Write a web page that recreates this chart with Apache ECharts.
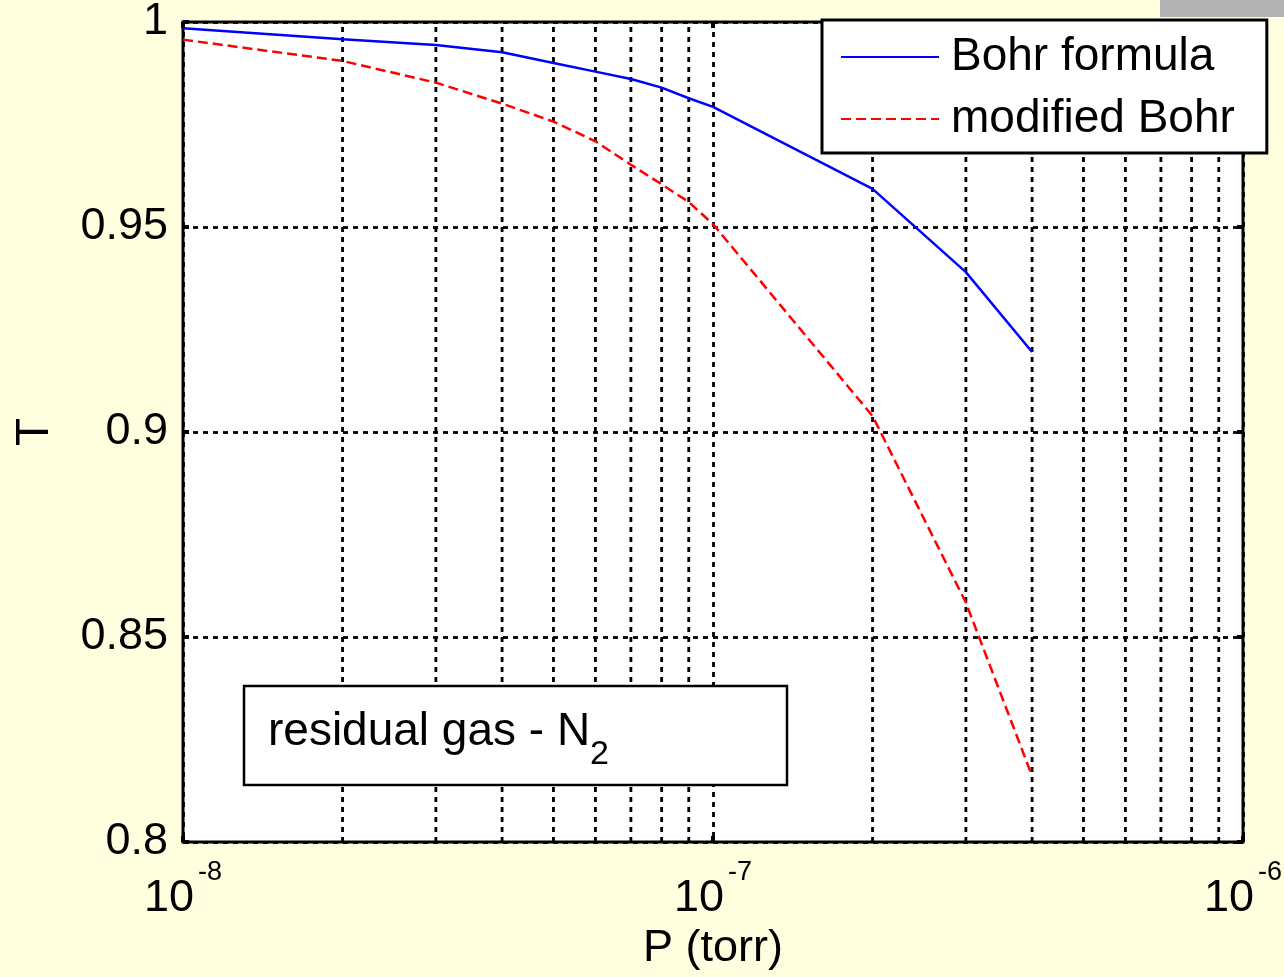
<!DOCTYPE html>
<html>
<head>
<meta charset="utf-8">
<script src="https://cdn.jsdelivr.net/npm/echarts@6/dist/echarts.min.js"></script>
<style>
html,body{margin:0;padding:0;background:#FFFFE0;}
#c{width:1284px;height:977px;}
</style>
</head>
<body>
<div id="c"></div>
<script>
// ---- data ----
var pressure = [1e-8, 2e-8, 3e-8, 4e-8, 5e-8, 6e-8, 7e-8, 8e-8, 9e-8, 1e-7, 2e-7, 3e-7, 4e-7];
var bohrFormula = [0.9985, 0.9958, 0.9944, 0.9926, 0.9900, 0.9879, 0.9861, 0.9840, 0.9814, 0.9793, 0.9593, 0.9390, 0.9195];
var modifiedBohr = [0.9957, 0.9905, 0.9852, 0.9801, 0.9757, 0.9709, 0.9652, 0.9604, 0.9561, 0.9507, 0.9039, 0.8584, 0.8161];
var minorGridX = [2e-8, 3e-8, 4e-8, 5e-8, 6e-8, 7e-8, 8e-8, 9e-8, 2e-7, 3e-7, 4e-7, 5e-7, 6e-7, 7e-7, 8e-7, 9e-7];
var yRange = [0.8, 1];
var xTickLabels = { '-8': '-8', '-7': '-7', '-6': '-6' };
var seriesNames = ['Bohr formula', 'modified Bohr'];
var annotationText = 'residual gas - N';
var annotationSub = '2';

var FONT = '"Liberation Sans", Arial, Helvetica, sans-serif';
function pairs(xs, ys) { return xs.map(function (x, i) { return [x, ys[i]]; }); }

var chart = echarts.init(document.getElementById('c'), null, { renderer: 'canvas' });
var gridStyle = { color: '#000', type: [5, 5], width: 2.8, opacity: 1 };

var minorSeries = minorGridX.map(function (v, i) {
  return {
    name: 'minor' + i, type: 'line', data: [[v, yRange[0]], [v, yRange[1]]],
    symbol: 'none', silent: true, z: 1, lineStyle: gridStyle,
    emphasis: { disabled: true }, tooltip: { show: false }
  };
});

chart.setOption({
  backgroundColor: '#FFFFE0',
  animation: false,
  textStyle: { fontFamily: FONT },
  grid: { left: 183, right: 41, top: 22, bottom: 135, outerBoundsMode: 'none', containLabel: false,
          show: true, backgroundColor: '#fff', borderColor: '#000', borderWidth: 3, z: 0 },
  legend: {
    data: seriesNames,
    orient: 'vertical',
    left: 822, top: 20,
    padding: [14, 32, 11, 18],
    itemGap: 16,
    itemWidth: 98, itemHeight: 14,
    backgroundColor: '#fff',
    borderColor: '#000', borderWidth: 3,
    itemStyle: { opacity: 0 },
    textStyle: { fontSize: 46, color: '#000', fontFamily: FONT, padding: [0, 0, 0, 7] },
    z: 10
  },
  xAxis: [{
    type: 'log', logBase: 10, min: 1e-8, max: 1e-6,
    name: 'P (torr)', nameLocation: 'middle', nameGap: 80,
    nameTextStyle: { fontSize: 45, color: '#000', fontFamily: FONT },
    axisLine: { show: false },
    axisTick: { show: true, inside: true, length: 6, lineStyle: { color: '#000', width: 4 } },
    splitLine: { show: true, lineStyle: gridStyle },
    axisLabel: {
      margin: 17, showMinLabel: true, showMaxLabel: true,
      formatter: function (v) {
        var e = String(Math.round(Math.log10(v)));
        return '{b|10}{s|' + (xTickLabels[e] || e) + '}';
      },
      rich: {
        b: { fontSize: 45, lineHeight: 62, verticalAlign: 'bottom', color: '#000', fontFamily: FONT },
        s: { fontSize: 27, lineHeight: 27, verticalAlign: 'top', color: '#000', fontFamily: FONT, padding: [0, 0, 0, 4] }
      }
    }
  }, {
    type: 'log', logBase: 10, min: 1e-8, max: 1e-6, position: 'top',
    axisLine: { show: false }, axisLabel: { show: false }, splitLine: { show: false },
    axisTick: { show: true, inside: true, length: 6, lineStyle: { color: '#000', width: 4 } }
  }],
  yAxis: [{
    type: 'value', min: yRange[0], max: yRange[1], interval: 0.05,
    name: 'T', nameLocation: 'middle', nameGap: 125, nameRotate: 90,
    nameTextStyle: { fontSize: 46, color: '#000', fontFamily: FONT },
    axisLine: { show: false },
    axisTick: { show: true, inside: true, length: 6, lineStyle: { color: '#000', width: 4 } },
    splitLine: { show: true, lineStyle: gridStyle },
    axisLabel: { fontSize: 45, color: '#000', margin: 15, fontFamily: FONT }
  }, {
    type: 'value', min: yRange[0], max: yRange[1], interval: 0.05, position: 'right',
    axisLine: { show: false }, axisLabel: { show: false }, splitLine: { show: false },
    axisTick: { show: true, inside: true, length: 6, lineStyle: { color: '#000', width: 4 } }
  }],
  series: minorSeries.concat([{
    name: seriesNames[0], type: 'line', data: pairs(pressure, bohrFormula),
    symbol: 'none', lineStyle: { color: '#0000FF', width: 2.5 }, itemStyle: { color: '#0000FF' }, z: 5
  }, {
    name: seriesNames[1], type: 'line', data: pairs(pressure, modifiedBohr),
    symbol: 'none', lineStyle: { color: '#FF0000', width: 2.5, type: [10, 5] }, itemStyle: { color: '#FF0000' }, z: 5
  }]),
  graphic: [
    { type: 'rect', left: 1160, top: 0, shape: { width: 124, height: 17 }, style: { fill: '#B3B3B3' }, z: 0 },
    { type: 'rect', shape: { x: 244, y: 686, width: 543, height: 99 }, style: { fill: '#fff', stroke: '#000', lineWidth: 2.5 }, z: 20 },
    { type: 'text', x: 268, y: 732, style: { text: annotationText, fontSize: 46, fontFamily: FONT, fill: '#000', verticalAlign: 'middle', align: 'left' }, z: 21 },
    { type: 'text', x: 590, y: 755, style: { text: annotationSub, fontSize: 34, fontFamily: FONT, fill: '#000', verticalAlign: 'middle', align: 'left' }, z: 21 }
  ]
});
</script>
</body>
</html>
